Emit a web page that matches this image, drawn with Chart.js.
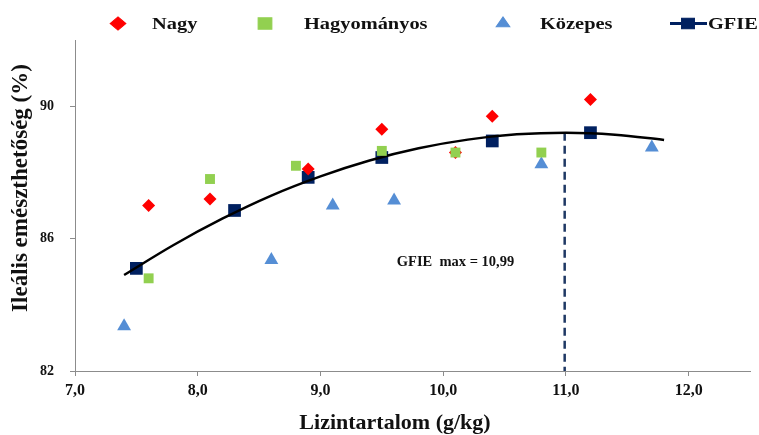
<!DOCTYPE html>
<html>
<head>
<meta charset="utf-8">
<script src="https://cdn.jsdelivr.net/npm/chart.js@4/dist/chart.umd.min.js"></script>
<style>
  html, body { margin: 0; padding: 0; background: #ffffff; overflow: hidden; }
  #c { display: block; }
</style>
</head>
<body>
<canvas id="c" width="759" height="435"></canvas>
<script>
// Series names
const seriesNames = ['Nagy', 'Hagyományos', 'Közepes', 'GFIE'];

// Lysine content (g/kg) and ileal digestibility (%) per group
const nagyX = [7.6, 8.1, 8.9, 9.5, 10.1, 10.4, 11.2];
const nagyY = [87.0, 87.2, 88.1, 89.3, 88.6, 89.7, 90.2];

const hagyX = [7.6, 8.1, 8.8, 9.5, 10.1, 10.8];
const hagyY = [84.8, 87.8, 88.2, 88.65, 88.6, 88.6];

const kozX = [7.4, 8.6, 9.1, 9.6, 10.8, 11.7];
const kozY = [83.35, 85.35, 87.0, 87.15, 88.25, 88.75];

const gfieX = [7.5, 8.3, 8.9, 9.5, 10.4, 11.2];
const gfieY = [85.1, 86.85, 87.85, 88.45, 88.95, 89.2];

// Fitted GFIE curve
const trendX = [7.4, 7.8, 8.2, 8.6, 9.0, 9.4, 9.8, 10.2, 10.6, 11.0, 11.4, 11.8];
const trendY = [84.9, 85.8, 86.6, 87.3, 87.88, 88.36, 88.73, 88.99, 89.15, 89.2, 89.14, 88.98];

// Optimum marker
const gfieMaxX = 10.99;
const gfieMaxY = 89.2;
const gfieMaxLabel = 'GFIE  max = 10,99';

// Axis ticks and titles
const xTicks = [7, 8, 9, 10, 11, 12];
const yTicks = [82, 86, 90];
const xTitle = 'Lizintartalom (g/kg)';
const yTitle = 'Ileális emészthetőség (%)';

const colors = {
  nagy: '#ff0000',
  hagy: '#92d050',
  koz: '#558ed5',
  gfie: '#002060',
  trend: '#000000',
  dash: '#1f3864',
  axis: '#8c8c8c',
  text: '#111111'
};

const serif = "'Liberation Serif', 'Times New Roman', serif";

const pts = (xs, ys) => xs.map((x, i) => ({ x: x, y: ys[i] }));

// Legend, axis titles and the optimum label drawn on the canvas
const decorations = {
  id: 'decorations',
  afterDraw(chart) {
    const ctx = chart.ctx;
    const xs = chart.scales.x, ys = chart.scales.y;
    const stretch = 1.2;

    // legend row
    const legend = [
      { ds: 0, mark: 118, text: 152 },
      { ds: 1, mark: 265, text: 304 },
      { ds: 2, mark: 503, text: 540 },
      { ds: 3, mark: 688, text: 708, line: [670, 707] }
    ];
    const ly = 23.5;
    legend.forEach(item => {
      const d = chart.data.datasets[item.ds];
      ctx.save();
      if (item.line) {
        ctx.strokeStyle = d.backgroundColor;
        ctx.lineWidth = 3;
        ctx.beginPath();
        ctx.moveTo(item.line[0], ly);
        ctx.lineTo(item.line[1], ly);
        ctx.stroke();
      }
      ctx.translate(item.mark, ly);
      ctx.scale(stretch, 1);
      ctx.fillStyle = d.backgroundColor;
      ctx.strokeStyle = d.backgroundColor;
      ctx.lineWidth = 1;
      const r = item.line ? 7.5 : (d.pointStyle === 'rect' ? 8 : 6.5);
      Chart.helpers.drawPoint(ctx, { pointStyle: d.pointStyle, radius: r, rotation: 0, borderWidth: 1 }, 0, 0);
      ctx.restore();

      ctx.save();
      ctx.translate(item.text, 29);
      ctx.scale(stretch, 1);
      ctx.fillStyle = colors.text;
      ctx.font = 'bold 17px ' + serif;
      ctx.textAlign = 'left';
      ctx.textBaseline = 'alphabetic';
      ctx.fillText(d.label, 0, 0);
      ctx.restore();
    });

    // y axis title
    ctx.save();
    ctx.translate(21, 188);
    ctx.rotate(-Math.PI / 2);
    ctx.fillStyle = colors.text;
    ctx.font = 'bold 23px ' + serif;
    ctx.textAlign = 'center';
    ctx.textBaseline = 'middle';
    ctx.fillText(yTitle, 0, 0);
    ctx.restore();

    // x axis title
    ctx.save();
    ctx.fillStyle = colors.text;
    ctx.font = 'bold 22px ' + serif;
    ctx.textAlign = 'center';
    ctx.textBaseline = 'alphabetic';
    ctx.fillText(xTitle, 395, 429);
    ctx.restore();

    // optimum label
    ctx.save();
    ctx.fillStyle = colors.text;
    ctx.font = 'bold 14.5px ' + serif;
    ctx.textAlign = 'center';
    ctx.textBaseline = 'middle';
    ctx.fillText(gfieMaxLabel, xs.getPixelForValue(10.1), ys.getPixelForValue(85.3));
    ctx.restore();
  }
};

new Chart(document.getElementById('c'), {
  type: 'scatter',
  data: {
    datasets: [
      {
        label: seriesNames[0], data: pts(nagyX, nagyY),
        pointStyle: 'rectRot', pointRadius: 6.5, pointHoverRadius: 6.5,
        backgroundColor: colors.nagy, borderColor: colors.nagy, borderWidth: 0, order: 1
      },
      {
        label: seriesNames[1], data: pts(hagyX, hagyY),
        pointStyle: 'rect', pointRadius: 7, pointHoverRadius: 7,
        backgroundColor: colors.hagy, borderColor: colors.hagy, borderWidth: 0, order: 0
      },
      {
        label: seriesNames[2], data: pts(kozX, kozY),
        pointStyle: 'triangle', pointRadius: 8, pointHoverRadius: 8,
        backgroundColor: colors.koz, borderColor: colors.koz, borderWidth: 0, order: 2
      },
      {
        label: seriesNames[3], data: pts(gfieX, gfieY),
        pointStyle: 'rect', pointRadius: 9, pointHoverRadius: 9,
        backgroundColor: colors.gfie, borderColor: colors.gfie, borderWidth: 0, order: 4
      },
      {
        label: 'trend', data: pts(trendX, trendY),
        showLine: true, pointRadius: 0, pointHoverRadius: 0,
        borderColor: colors.trend, borderWidth: 2.5, cubicInterpolationMode: 'monotone',
        fill: false, order: 3
      },
      {
        label: 'max', data: [{ x: gfieMaxX, y: gfieMaxY }, { x: gfieMaxX, y: yTicks[0] }],
        showLine: true, pointRadius: 0, pointHoverRadius: 0,
        borderColor: colors.dash, borderWidth: 2.5, borderDash: [8, 5],
        fill: false, order: 5
      }
    ]
  },
  options: {
    responsive: false,
    animation: false,
    devicePixelRatio: 1,
    events: [],
    layout: { padding: { top: 40, right: -3, left: 0, bottom: 0 } },
    plugins: { legend: { display: false }, tooltip: { enabled: false } },
    scales: {
      x: {
        type: 'linear', min: 7, max: 12.5,
        afterBuildTicks: s => { s.ticks = xTicks.map(v => ({ value: v })); },
        afterFit: s => { s.height = 64; s.paddingRight = 0; s.paddingLeft = 0; },
        grid: { display: true, drawOnChartArea: false, drawTicks: true, tickLength: 5, color: colors.axis },
        border: { display: true, color: colors.axis, width: 1 },
        ticks: {
          padding: 5, color: colors.text, autoSkip: false, maxRotation: 0,
          font: { family: serif, weight: 'bold', size: 16 },
          callback: v => Number(v).toFixed(1).replace('.', ',')
        }
      },
      y: {
        type: 'linear', min: 82, max: 92,
        afterBuildTicks: s => { s.ticks = yTicks.map(v => ({ value: v })); },
        afterFit: s => { s.width = 75; },
        grid: { display: true, drawOnChartArea: false, drawTicks: true, tickLength: 5, color: colors.axis },
        border: { display: true, color: colors.axis, width: 1 },
        ticks: {
          padding: 16, color: colors.text,
          font: { family: serif, weight: 'bold', size: 14 },
          callback: v => String(v)
        }
      }
    }
  },
  plugins: [decorations]
});
</script>
</body>
</html>
